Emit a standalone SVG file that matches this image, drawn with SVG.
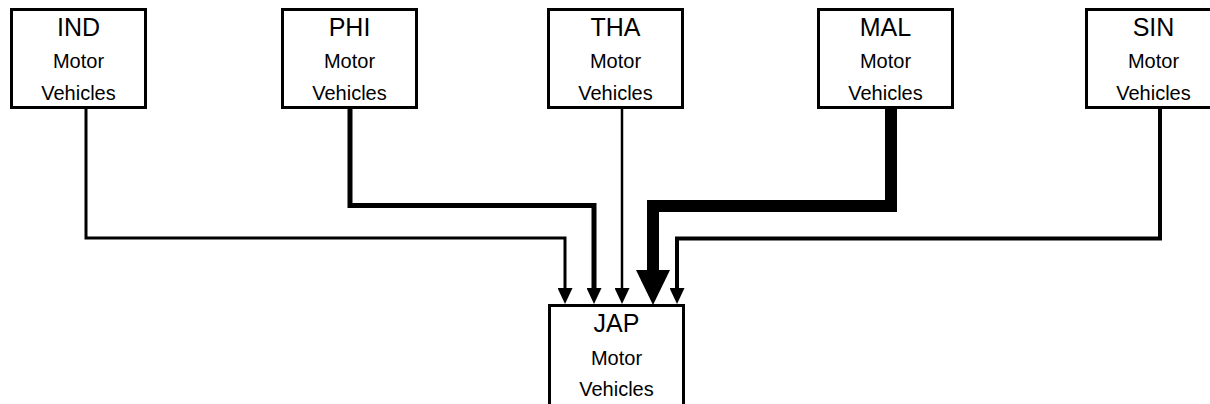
<svg xmlns="http://www.w3.org/2000/svg" width="1210" height="404" viewBox="0 0 1210 404">
  <style>
    .box { fill: #ffffff; stroke: #000000; stroke-width: 3; }
    .title { font-family: "Liberation Sans", Arial, sans-serif; font-size: 25px; fill: #000000; text-anchor: middle; }
    .sub { font-family: "Liberation Sans", Arial, sans-serif; font-size: 20px; fill: #000000; text-anchor: middle; }
    .flow { fill: none; stroke: #000000; stroke-linejoin: miter; stroke-linecap: butt; }
  </style>
  <defs>
    <marker id="head" markerUnits="userSpaceOnUse" markerWidth="16" markerHeight="15" viewBox="0 0 16 15" refX="0" refY="7.5" orient="auto">
      <path d="M0,0 L16,7.5 L0,15 z" fill="#000000"/>
    </marker>
    <marker id="headBig" markerUnits="userSpaceOnUse" markerWidth="35" markerHeight="34" viewBox="0 0 35 34" refX="0" refY="17" orient="auto">
      <path d="M0,0 L35,17 L0,34 z" fill="#000000"/>
    </marker>
  </defs>

  <rect width="1210" height="404" fill="#ffffff"/>

  <!-- flows into JAP, stroke width follows volume -->
  <g id="connectors">
    <polyline class="flow" stroke-width="3" points="86,109 86,238 565,238 565,288" marker-end="url(#head)"/>
    <polyline class="flow" stroke-width="5" points="350,109 350,205.5 594,205.5 594,288" marker-end="url(#head)"/>
    <polyline class="flow" stroke-width="2.5" points="622,109 622,288" marker-end="url(#head)"/>
    <polyline class="flow" stroke-width="12" points="891,109 891,206 653,206 653,270" marker-end="url(#headBig)"/>
    <polyline class="flow" stroke-width="4" points="1160,109 1160,238.5 677,238.5 677,288" marker-end="url(#head)"/>
  </g>

  <g id="IND">
    <rect class="box" x="11.5" y="9.5" width="134" height="98"/>
    <text class="title" x="78.5" y="36">IND</text>
    <text class="sub" x="78.5" y="68">Motor</text>
    <text class="sub" x="78.5" y="100">Vehicles</text>
  </g>
  <g id="PHI">
    <rect class="box" x="282.5" y="9.5" width="134" height="98"/>
    <text class="title" x="349.5" y="36">PHI</text>
    <text class="sub" x="349.5" y="68">Motor</text>
    <text class="sub" x="349.5" y="100">Vehicles</text>
  </g>
  <g id="THA">
    <rect class="box" x="548.5" y="9.5" width="134" height="98"/>
    <text class="title" x="615.5" y="36">THA</text>
    <text class="sub" x="615.5" y="68">Motor</text>
    <text class="sub" x="615.5" y="100">Vehicles</text>
  </g>
  <g id="MAL">
    <rect class="box" x="818.5" y="9.5" width="134" height="98"/>
    <text class="title" x="885.5" y="36">MAL</text>
    <text class="sub" x="885.5" y="68">Motor</text>
    <text class="sub" x="885.5" y="100">Vehicles</text>
  </g>
  <g id="SIN">
    <rect class="box" x="1086.5" y="9.5" width="134" height="98"/>
    <text class="title" x="1153.5" y="36">SIN</text>
    <text class="sub" x="1153.5" y="68">Motor</text>
    <text class="sub" x="1153.5" y="100">Vehicles</text>
  </g>
  <g id="JAP">
    <rect class="box" x="549.5" y="305.5" width="134" height="110"/>
    <text class="title" x="616.5" y="332">JAP</text>
    <text class="sub" x="616.5" y="365">Motor</text>
    <text class="sub" x="616.5" y="396">Vehicles</text>
  </g>
</svg>
